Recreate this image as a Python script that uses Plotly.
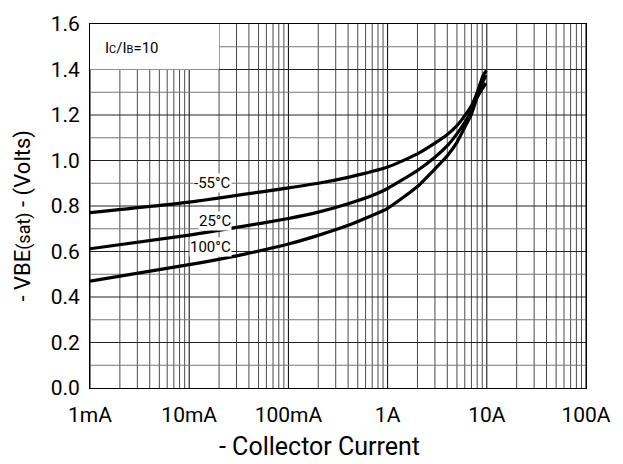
import plotly.graph_objects as go
import numpy as np

# Data (collector current in A, VBE(sat) in V)
current_m55 = [0.001, 0.01, 0.1, 0.2, 0.4, 1.0, 2, 3, 4, 5, 6, 7, 8, 9.2, 9.9]
vbe_m55 = [0.771, 0.817, 0.880, 0.900, 0.926, 0.971, 1.029, 1.076, 1.114, 1.153, 1.197, 1.241, 1.299, 1.375, 1.395]

current_25 = [0.001, 0.01, 0.03, 0.1, 0.2, 0.4, 0.7, 1.0, 2, 3, 4, 5, 6, 7, 8, 9.2, 9.8]
vbe_25 = [0.612, 0.672, 0.706, 0.745, 0.773, 0.810, 0.846, 0.877, 0.956, 1.014, 1.065, 1.117, 1.168, 1.219, 1.285, 1.35, 1.375]

current_100 = [0.001, 0.01, 0.03, 0.1, 0.2, 0.4, 1.0, 2, 3, 4, 5, 6, 7, 8, 9.8]
vbe_100 = [0.470, 0.542, 0.581, 0.633, 0.671, 0.715, 0.790, 0.886, 0.963, 1.021, 1.080, 1.146, 1.204, 1.277, 1.34]

curve_labels = ["-55°C", "25°C", "100°C"]
label_x = [0.0268, 0.0268, 0.0268]
label_y = [0.899, 0.733, 0.619]

x_tickvals = [0.001, 0.01, 0.1, 1, 10, 100]
x_ticktext = ["1mA", "10mA", "100mA", "1A", "10A", "100A"]
y_tickvals = [0.0, 0.2, 0.4, 0.6, 0.8, 1.0, 1.2, 1.4, 1.6]

FONT = "Roboto, Liberation Sans, sans-serif"

fig = go.Figure()
for xs, ys in [(current_m55, vbe_m55), (current_25, vbe_25), (current_100, vbe_100)]:
    fig.add_trace(go.Scatter(x=xs, y=ys, mode="lines",
                             line=dict(color="black", width=3.2, shape="spline", smoothing=0.5),
                             showlegend=False, hoverinfo="skip"))

# gridlines (computed from decades)
shapes = []
for d in range(-3, 2):
    for m in range(2, 10):
        v = m * 10 ** d
        shapes.append(dict(type="line", xref="x", yref="paper", x0=v, x1=v, y0=0, y1=1,
                           line=dict(color="#4a4a4a", width=1), layer="below"))
for d in range(-3, 3):
    v = 10 ** d
    shapes.append(dict(type="line", xref="x", yref="paper", x0=v, x1=v, y0=0, y1=1,
                       line=dict(color="black", width=1), layer="below"))
for k in range(1, 16):
    v = k / 10
    shapes.append(dict(type="line", xref="paper", yref="y", x0=0, x1=1, y0=v, y1=v,
                       line=dict(color="#222" if k % 2 == 0 else "#777", width=1), layer="below"))
# white box behind the Ic/Ib note
shapes.append(dict(type="rect", xref="x", yref="y", x0=0.001, x1=0.02, y0=1.4, y1=1.6,
                   fillcolor="white", line=dict(width=0), layer="below"))

W, H = 623, 464
pl, pr, pt, pb = 90, 29, 23, 76
pw, ph = W - pl - pr, H - pt - pb

fig.update_layout(
    width=W, height=H,
    margin=dict(l=pl, r=pr, t=pt, b=pb),
    paper_bgcolor="white", plot_bgcolor="white",
    font=dict(family=FONT, color="black"),
    shapes=shapes,
    xaxis=dict(type="log", range=[-3, 2], tickvals=x_tickvals, ticktext=x_ticktext,
               showgrid=False, zeroline=False, showline=True, linecolor="black", linewidth=1,
               mirror=True, ticks="", ticklabelstandoff=8, tickfont=dict(size=21, family=FONT)),
    yaxis=dict(range=[0, 1.6], tickvals=y_tickvals, tickformat=".1f",
               showgrid=False, zeroline=False, showline=True, linecolor="black", linewidth=1,
               mirror=True, ticks="", ticklabelstandoff=5, tickfont=dict(size=21, family=FONT)),
)

annotations = []
for t, lx, ly in zip(curve_labels, label_x, label_y):
    annotations.append(dict(x=np.log10(lx), y=ly, xref="x", yref="y", text=t, showarrow=False,
                            xanchor="right", yanchor="middle",
                            bgcolor="white", font=dict(size=15, family=FONT), borderpad=0))
annotations.append(dict(x=np.log10(0.00134), y=1.495, xref="x", yref="y", xanchor="left",
                        text="I<span style='font-size:11px'>C</span>/I<span style='font-size:11px'>B</span>=10",
                        showarrow=False, font=dict(size=15, family=FONT)))
annotations.append(dict(x=(323 - pl) / pw, y=(H - 447 - pb) / ph, xref="paper", yref="paper",
                        xanchor="center", yanchor="middle",
                        text="- Collector Current", showarrow=False,
                        font=dict(size=25, family=FONT)))
annotations.append(dict(x=(22 - pl) / pw, y=(H - 215 - pb) / ph, xref="paper", yref="paper",
                        xanchor="center", yanchor="middle",
                        text="- VBE<span style='font-size:18px'>(sat)</span> - (Volts)",
                        showarrow=False, textangle=-90, font=dict(size=22, family=FONT)))
fig.update_layout(annotations=annotations)

fig.write_html("out.html")
